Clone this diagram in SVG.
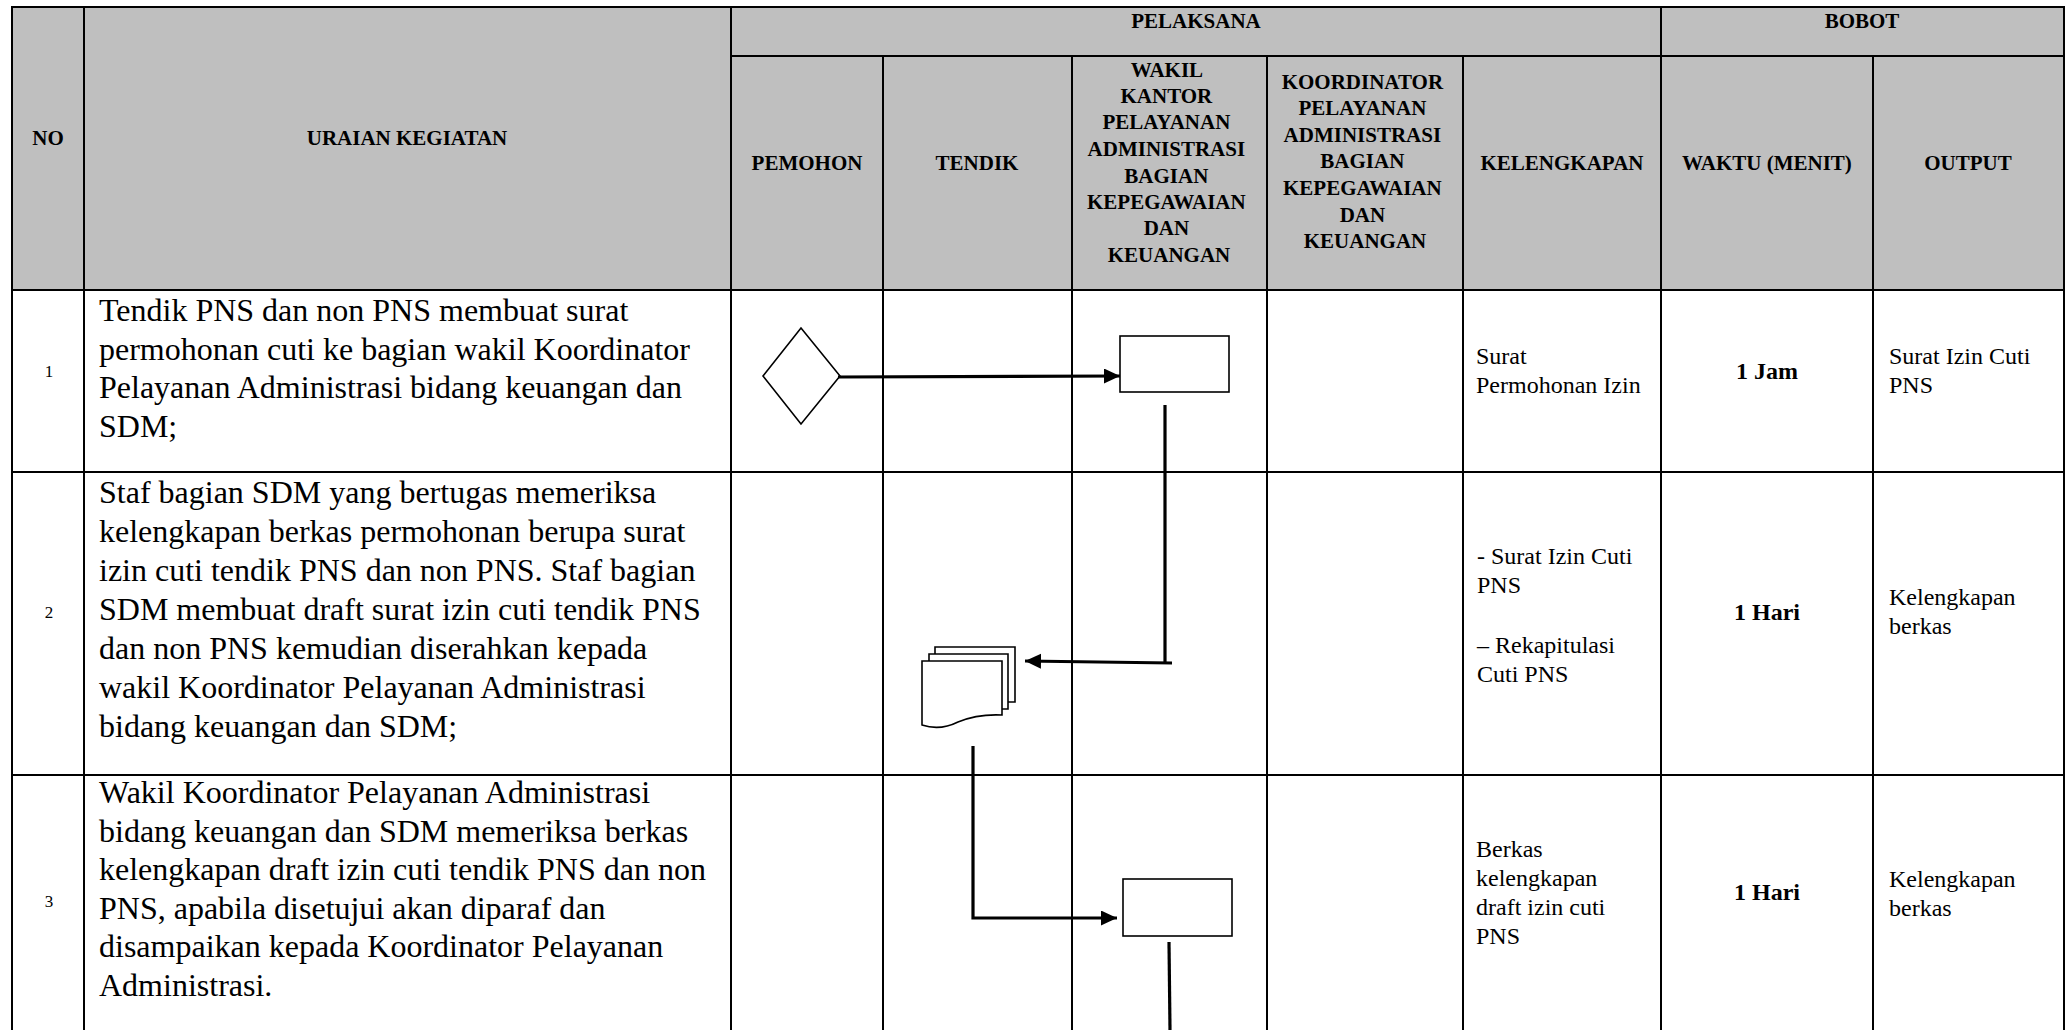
<svg xmlns="http://www.w3.org/2000/svg" width="2066" height="1030" viewBox="0 0 2066 1030">
<defs>
<style>
.hd{font-family:"Liberation Serif","Times New Roman",serif;font-weight:bold;font-size:21px;fill:#000;text-anchor:middle}
.main{font-family:"Liberation Serif","Times New Roman",serif;font-size:32px;fill:#000}
.num{font-family:"Liberation Serif","Times New Roman",serif;font-size:17px;fill:#000;text-anchor:middle}
.sm{font-family:"Liberation Serif","Times New Roman",serif;font-size:24px;fill:#000}
.smb{font-family:"Liberation Serif","Times New Roman",serif;font-size:24px;font-weight:bold;fill:#000;text-anchor:middle}
.grid{stroke:#000;stroke-width:2;fill:none}
.shape{stroke:#000;stroke-width:1.6;fill:#fff}
.conn{stroke:#000;stroke-width:3.2;fill:none}
</style>
<marker id="arr" markerUnits="userSpaceOnUse" markerWidth="17" markerHeight="16" refX="16" refY="7.5" orient="auto">
<path d="M0,0 L16,7.5 L0,15 Z" fill="#000"/>
</marker>
</defs>
<rect x="0" y="0" width="2066" height="1030" fill="#fff"/>

<g id="table">
<rect x="12" y="7" width="2052" height="283" fill="#BFBFBF"/>
<path class="grid" d="M12,1030 V7 H2064 V1030"/>
<path class="grid" d="M84,7 V1030 M731,7 V1030 M1661,7 V1030"/>
<path class="grid" d="M731,56 H2064"/>
<path class="grid" d="M883,56 V1030 M1072,56 V1030 M1267,56 V1030 M1463,56 V1030 M1873,56 V1030"/>
<path class="grid" stroke-width="2.5" d="M12,290 H2064 M12,472 H2064 M12,775 H2064"/>
</g>

<g id="header">
<text class="hd" x="48" y="145">NO</text>
<text class="hd" x="407" y="145">URAIAN KEGIATAN</text>
<text class="hd" x="1196" y="28">PELAKSANA</text>
<text class="hd" x="1862" y="28">BOBOT</text>
<text class="hd" x="807" y="170">PEMOHON</text>
<text class="hd" x="977" y="170">TENDIK</text>
<text class="hd" x="1169">
<tspan x="1169" y="77">WAKIL</tspan>
<tspan x="1169" y="103">KANTOR</tspan>
<tspan x="1169" y="129">PELAYANAN</tspan>
<tspan x="1169" y="156">ADMINISTRASI</tspan>
<tspan x="1169" y="183">BAGIAN</tspan>
<tspan x="1169" y="209">KEPEGAWAIAN</tspan>
<tspan x="1169" y="235">DAN</tspan>
<tspan x="1169" y="262">KEUANGAN</tspan>
</text>
<text class="hd" x="1365">
<tspan x="1365" y="89">KOORDINATOR</tspan>
<tspan x="1365" y="115">PELAYANAN</tspan>
<tspan x="1365" y="142">ADMINISTRASI</tspan>
<tspan x="1365" y="168">BAGIAN</tspan>
<tspan x="1365" y="195">KEPEGAWAIAN</tspan>
<tspan x="1365" y="222">DAN</tspan>
<tspan x="1365" y="248">KEUANGAN</tspan>
</text>
<text class="hd" x="1562" y="170">KELENGKAPAN</text>
<text class="hd" x="1767" y="170">WAKTU (MENIT)</text>
<text class="hd" x="1968" y="170">OUTPUT</text>
</g>

<g id="row1">
<text class="num" x="49" y="377">1</text>
<text class="main">
<tspan x="99" y="321">Tendik PNS dan non PNS membuat surat</tspan>
<tspan x="99" y="359.5">permohonan cuti ke bagian wakil Koordinator</tspan>
<tspan x="99" y="398">Pelayanan Administrasi bidang keuangan dan</tspan>
<tspan x="99" y="436.5">SDM;</tspan>
</text>
<text class="sm"><tspan x="1476" y="364">Surat</tspan><tspan x="1476" y="393">Permohonan Izin</tspan></text>
<text class="smb" x="1767" y="379">1 Jam</text>
<text class="sm"><tspan x="1889" y="364">Surat Izin Cuti</tspan><tspan x="1889" y="393">PNS</tspan></text>
</g>

<g id="row2">
<text class="num" x="49" y="618">2</text>
<text class="main">
<tspan x="99" y="503">Staf bagian SDM yang bertugas memeriksa</tspan>
<tspan x="99" y="542">kelengkapan berkas permohonan berupa surat</tspan>
<tspan x="99" y="581">izin cuti tendik PNS dan non PNS. Staf bagian</tspan>
<tspan x="99" y="620">SDM membuat draft surat izin cuti tendik PNS</tspan>
<tspan x="99" y="659">dan non PNS kemudian diserahkan kepada</tspan>
<tspan x="99" y="698">wakil Koordinator Pelayanan Administrasi</tspan>
<tspan x="99" y="737">bidang keuangan dan SDM;</tspan>
</text>
<text class="sm"><tspan x="1477" y="564">- Surat Izin Cuti</tspan><tspan x="1477" y="593">PNS</tspan><tspan x="1477" y="653">– Rekapitulasi</tspan><tspan x="1477" y="682">Cuti PNS</tspan></text>
<text class="smb" x="1767" y="620">1 Hari</text>
<text class="sm"><tspan x="1889" y="605">Kelengkapan</tspan><tspan x="1889" y="634">berkas</tspan></text>
</g>

<g id="row3">
<text class="num" x="49" y="907">3</text>
<text class="main">
<tspan x="99" y="803">Wakil Koordinator Pelayanan Administrasi</tspan>
<tspan x="99" y="842">bidang keuangan dan SDM memeriksa berkas</tspan>
<tspan x="99" y="880">kelengkapan draft izin cuti tendik PNS dan non</tspan>
<tspan x="99" y="919">PNS, apabila disetujui akan diparaf dan</tspan>
<tspan x="99" y="957">disampaikan kepada Koordinator Pelayanan</tspan>
<tspan x="99" y="996">Administrasi.</tspan>
</text>
<text class="sm"><tspan x="1476" y="857">Berkas</tspan><tspan x="1476" y="886">kelengkapan</tspan><tspan x="1476" y="915">draft izin cuti</tspan><tspan x="1476" y="944">PNS</tspan></text>
<text class="smb" x="1767" y="900">1 Hari</text>
<text class="sm"><tspan x="1889" y="887">Kelengkapan</tspan><tspan x="1889" y="916">berkas</tspan></text>
</g>

<g id="node-start">
<polygon class="shape" points="801,328 840,376 801,424 763,376"/>
</g>
<g id="node-process1">
<rect class="shape" x="1120" y="336" width="109" height="56"/>
</g>
<g id="node-documents">
<path class="shape" d="M935,654 V647 H1015 V702 H1008"/>
<path class="shape" d="M929,661 V654 H1008 V709 H1002"/>
<path class="shape" d="M922,661 H1002 V715 C982,714 970,717 958,722 C946,728 934,729 922,725 Z"/>
</g>
<g id="node-process2">
<rect class="shape" x="1123" y="879" width="109" height="57"/>
</g>

<g id="connectors">
<line class="conn" x1="838" y1="377" x2="1120" y2="376" marker-end="url(#arr)"/>
<line class="conn" x1="1165" y1="405" x2="1165" y2="664"/>
<line class="conn" x1="1172" y1="663" x2="1025" y2="661" marker-end="url(#arr)"/>
<polyline class="conn" points="973,746 973,918 1117,918" marker-end="url(#arr)"/>
<line class="conn" x1="1169" y1="942" x2="1170" y2="1030"/>
</g>
</svg>
